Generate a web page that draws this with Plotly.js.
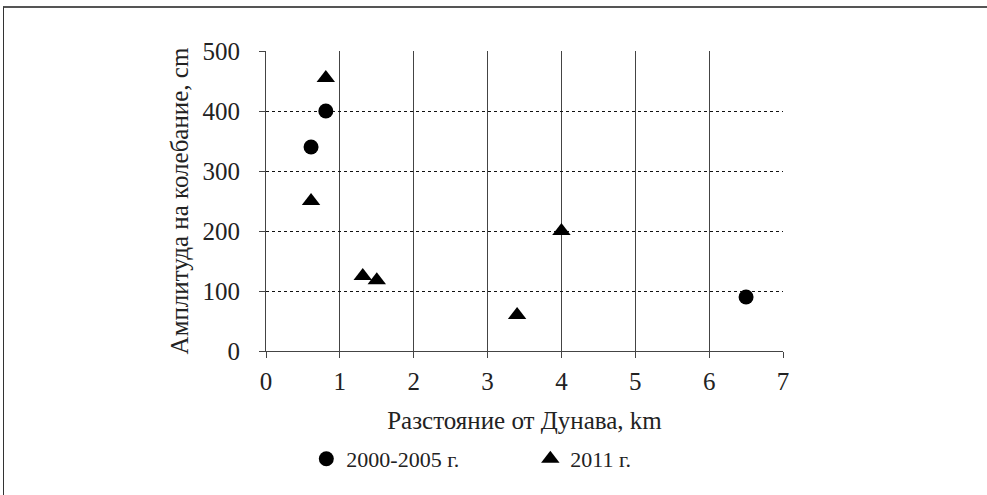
<!DOCTYPE html>
<html>
<head>
<meta charset="utf-8">
<script src="https://cdn.plot.ly/plotly-3.0.1.min.js"></script>
<style>
  html, body { margin: 0; padding: 0; background: #fff; }
  #wrap { position: relative; width: 987px; height: 495px; }
  #frame { position: absolute; left: 3px; top: 6px; right: 0; bottom: 0;
           border-top: 2px solid #555; border-left: 1px solid #333; pointer-events: none; }
  #chart { width: 987px; height: 495px; }
</style>
</head>
<body>
<div id="wrap">
<div id="chart"></div>
<div id="frame"></div>
</div>
<script>
// Series 2000-2005 г.
const x2000 = [0.61, 0.81, 6.5];
const y2000 = [340, 400, 90];
// Series 2011 г.
const x2011 = [0.81, 0.61, 1.31, 1.5, 3.4, 4.0];
const y2011 = [455, 250, 125, 118, 60, 200];

const seriesNames = ["2000-2005 г.", "2011 г."];
const xTitle = "Разстояние от Дунава, km";
const yTitle = "Амплитуда на колебание, cm";

const font = "Liberation Serif";

const traces = [
  { x: x2000, y: y2000, name: seriesNames[0], type: "scatter", mode: "markers",
    marker: { symbol: "circle", size: 15, color: "#000" }, cliponaxis: false },
  { x: x2011, y: y2011, name: seriesNames[1], type: "scatter", mode: "markers",
    marker: { symbol: "triangle-up", size: 16, color: "#000" }, cliponaxis: false }
];

const layout = {
  width: 987, height: 495,
  margin: { l: 266, r: 204, t: 51, b: 144 },
  paper_bgcolor: "#fff", plot_bgcolor: "#fff",
  font: { family: font, size: 22, color: "#222" },
  showlegend: true,
  legend: {
    orientation: "h", x: 0.078, xanchor: "left", y: -0.29, yanchor: "top",
    font: { family: font, size: 22, color: "#222" },
    entrywidth: 179, itemwidth: 30
  },
  xaxis: {
    range: [0, 7], dtick: 1, tick0: 0,
    showgrid: true, gridcolor: "#444", gridwidth: 1,
    showline: true, linecolor: "#444", linewidth: 1,
    ticks: "outside", ticklen: 6, tickcolor: "#444",
    zeroline: false, mirror: false,
    ticklabelstandoff: 2,
    tickfont: { family: font, size: 25, color: "#222" },
    title: { text: xTitle, font: { family: font, size: 25, color: "#222" }, standoff: 17 }
  },
  yaxis: {
    range: [0, 500], dtick: 100, tick0: 0,
    showgrid: true, gridcolor: "#111", gridwidth: 1, griddash: "dot",
    showline: true, linecolor: "#444", linewidth: 1,
    ticks: "outside", ticklen: 6, tickcolor: "#444",
    zeroline: false,
    ticklabelstandoff: 14,
    tickfont: { family: font, size: 25, color: "#222" },
    title: { text: yTitle, font: { family: font, size: 25, color: "#222" }, standoff: 6 }
  }
};

Plotly.newPlot("chart", traces, layout, { displayModeBar: false, staticPlot: true });
</script>
</body>
</html>
